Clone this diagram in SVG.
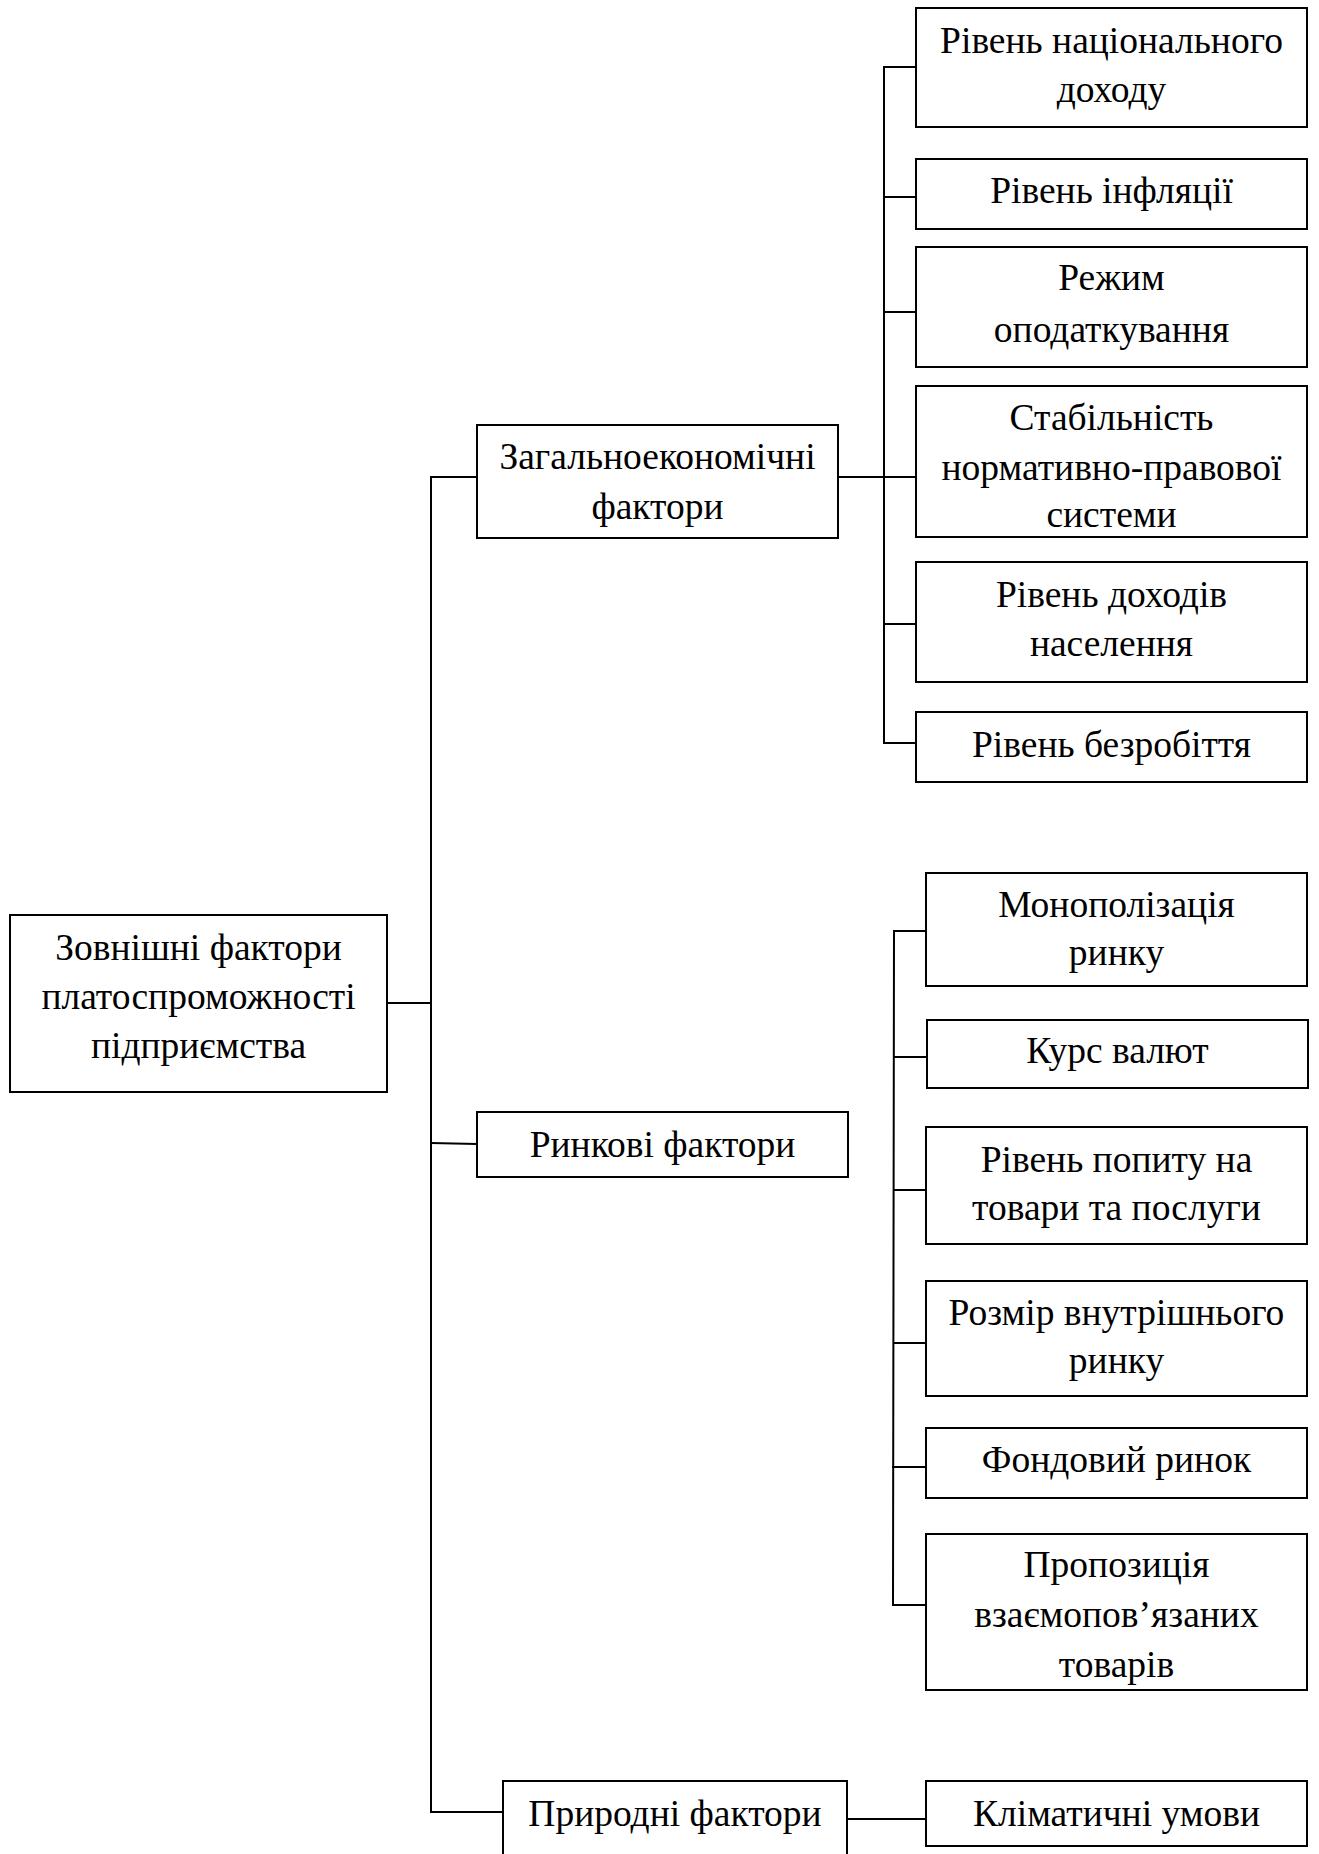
<svg xmlns="http://www.w3.org/2000/svg" width="1319" height="1854" viewBox="0 0 1319 1854">
<style>
.box{fill:#fff;stroke:#000;stroke-width:2}
.t{font-family:"Liberation Serif","Times New Roman",serif;font-size:37.5px;fill:#000;text-anchor:middle}
.c{fill:none;stroke:#000;stroke-width:2}
</style>
<rect width="1319" height="1854" fill="#fff"/>
<g id="connectors">
<polyline class="c" points="387,1003 431,1003"/>
<polyline class="c" points="477,477 431,477 431,1812 503,1812"/>
<polyline class="c" points="431,1143 477,1144"/>
<polyline class="c" points="838,477 916,477"/>
<polyline class="c" points="916,67 884,67 884,743 916,743"/>
<polyline class="c" points="884,197 916,197"/>
<polyline class="c" points="884,312 916,312"/>
<polyline class="c" points="884,624 916,624"/>
<polyline class="c" points="926,931 894,931 893,1605 926,1605"/>
<polyline class="c" points="894,1057 927,1057"/>
<polyline class="c" points="894,1190 927,1190"/>
<polyline class="c" points="893,1343 926,1343"/>
<polyline class="c" points="892,1467 926,1467"/>
<polyline class="c" points="847,1819 926,1819"/>
</g>
<g id="root">
<rect class="box" x="10" y="915" width="377" height="177"/>
<text class="t" x="198.5" y="960">Зовнішні фактори</text>
<text class="t" x="198.5" y="1009">платоспроможності</text>
<text class="t" x="198.5" y="1058">підприємства</text>
</g>
<g id="n-general">
<rect class="box" x="477" y="425" width="361" height="113"/>
<text class="t" x="657.5" y="469">Загальноекономічні</text>
<text class="t" x="657.5" y="519">фактори</text>
</g>
<g id="n-market">
<rect class="box" x="477" y="1112" width="371" height="65"/>
<text class="t" x="662.5" y="1157">Ринкові фактори</text>
</g>
<g id="n-natural">
<rect class="box" x="503" y="1781" width="344" height="80"/>
<text class="t" x="675" y="1826">Природні фактори</text>
</g>
<g id="g1">
<rect class="box" x="916" y="8" width="391" height="119"/>
<text class="t" x="1111.5" y="53">Рівень національного</text>
<text class="t" x="1111.5" y="102">доходу</text>
</g>
<g id="g2">
<rect class="box" x="916" y="159" width="391" height="70"/>
<text class="t" x="1111.5" y="203">Рівень інфляції</text>
</g>
<g id="g3">
<rect class="box" x="916" y="247" width="391" height="120"/>
<text class="t" x="1111.5" y="290">Режим</text>
<text class="t" x="1111.5" y="342">оподаткування</text>
</g>
<g id="g4">
<rect class="box" x="916" y="386" width="391" height="151"/>
<text class="t" x="1111.5" y="430">Стабільність</text>
<text class="t" x="1111.5" y="480">нормативно-правової</text>
<text class="t" x="1111.5" y="527">системи</text>
</g>
<g id="g5">
<rect class="box" x="916" y="562" width="391" height="120"/>
<text class="t" x="1111.5" y="607">Рівень доходів</text>
<text class="t" x="1111.5" y="656">населення</text>
</g>
<g id="g6">
<rect class="box" x="916" y="712" width="391" height="70"/>
<text class="t" x="1111.5" y="757">Рівень безробіття</text>
</g>
<g id="m1">
<rect class="box" x="926" y="873" width="381" height="113"/>
<text class="t" x="1116.5" y="917">Монополізація</text>
<text class="t" x="1116.5" y="965">ринку</text>
</g>
<g id="m2">
<rect class="box" x="927" y="1020" width="381" height="68"/>
<text class="t" x="1117.5" y="1063">Курс валют</text>
</g>
<g id="m3">
<rect class="box" x="926" y="1127" width="381" height="117"/>
<text class="t" x="1116.5" y="1172">Рівень попиту на</text>
<text class="t" x="1116.5" y="1220">товари та послуги</text>
</g>
<g id="m4">
<rect class="box" x="926" y="1281" width="381" height="115"/>
<text class="t" x="1116.5" y="1325">Розмір внутрішнього</text>
<text class="t" x="1116.5" y="1373">ринку</text>
</g>
<g id="m5">
<rect class="box" x="926" y="1428" width="381" height="70"/>
<text class="t" x="1116.5" y="1472">Фондовий ринок</text>
</g>
<g id="m6">
<rect class="box" x="926" y="1534" width="381" height="156"/>
<text class="t" x="1116.5" y="1577">Пропозиція</text>
<text class="t" x="1116.5" y="1627">взаємопов’язаних</text>
<text class="t" x="1116.5" y="1677">товарів</text>
</g>
<g id="n1">
<rect class="box" x="926" y="1781" width="381" height="65"/>
<text class="t" x="1116.5" y="1826">Кліматичні умови</text>
</g>
</svg>
